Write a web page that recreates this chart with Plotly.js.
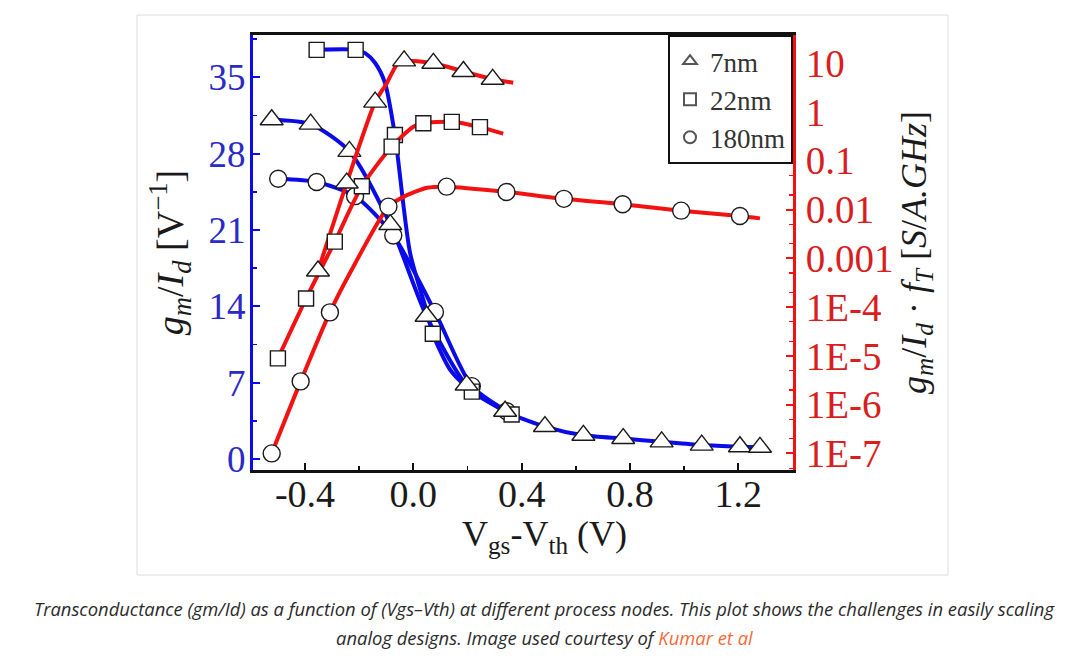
<!DOCTYPE html>
<html>
<head>
<meta charset="utf-8">
<script src="https://cdn.plot.ly/plotly-3.0.1.min.js"></script>
<style>
  html, body { margin: 0; padding: 0; background: #ffffff; }
  #chart { width: 1079px; height: 656px; }
</style>
</head>
<body>
<div id="chart"></div>
<script>
// ---------- data ----------
// gm/Id [V^-1] vs Vgs-Vth [V]  (left axis)
const vgs7Blue   = [-0.523, -0.379, -0.236, -0.085, 0.049, 0.197, 0.339, 0.486, 0.628, 0.775, 0.917, 1.065, 1.206, 1.28];
const gmid7      = [31.1, 30.7, 28.2, 21.5, 13.1, 6.8, 4.4, 3.0, 2.2, 1.9, 1.6, 1.3, 1.15, 1.1];

const vgs22Blue  = [-0.357, -0.213, -0.068, 0.072, 0.216, 0.363];
const gmid22     = [37.5, 37.5, 29.7, 11.5, 6.2, 4.1];
const vgs22BlueCurve  = [-0.357, -0.213, -0.178, -0.141, -0.105, -0.068, -0.012, 0.049, 0.072, 0.136, 0.216, 0.363];
const gmid22Curve     = [37.5, 37.5, 37.2, 36.3, 34.5, 29.7, 18.9, 13.6, 11.5, 8.2, 6.2, 4.1];

const vgs180Blue = [-0.499, -0.357, -0.215, -0.074, 0.080, 0.216, 0.345];
const gmid180    = [25.7, 25.4, 24.1, 20.5, 13.5, 6.7, 4.4];

// gm/Id * fT [S/A.GHz] vs Vgs-Vth [V]  (right, log axis)
const vgs7Red    = [-0.352, -0.246, -0.141, -0.034, 0.074, 0.185, 0.293];
const fom7       = [5.5e-4, 0.035, 1.6, 11.2, 10.0, 6.8, 4.7];
const vgs7RedCurve = [-0.352, -0.246, -0.141, -0.098, -0.061, -0.034, 0.074, 0.185, 0.293, 0.369];
const fom7Curve    = [5.5e-4, 0.035, 1.6, 3.9, 9.3, 11.2, 10.0, 6.8, 4.7, 4.0];

const vgs22Red   = [-0.5, -0.396, -0.29, -0.19, -0.08, 0.037, 0.142, 0.246];
const fom22      = [8.9e-6, 1.5e-4, 2.2e-3, 0.030, 0.195, 0.59, 0.63, 0.49];
const vgs22RedCurve = [-0.5, -0.396, -0.29, -0.19, -0.08, 0.0, 0.037, 0.142, 0.246, 0.332];
const fom22Curve    = [8.9e-6, 1.5e-4, 2.2e-3, 0.030, 0.195, 0.50, 0.59, 0.63, 0.49, 0.36];

const vgs180Red  = [-0.523, -0.416, -0.308, -0.092, 0.123, 0.344, 0.556, 0.773, 0.989, 1.206];
const fom180     = [1.0e-7, 3.0e-6, 7.8e-5, 0.0115, 0.0295, 0.023, 0.0166, 0.0129, 0.0095, 0.0074];
const vgs180RedCurve = [-0.523, -0.416, -0.308, -0.234, -0.092, -0.038, 0.051, 0.123, 0.344, 0.556, 0.773, 0.989, 1.206, 1.28];
const fom180Curve    = [1.0e-7, 3.0e-6, 7.8e-5, 5.0e-4, 0.0115, 0.018, 0.028, 0.0295, 0.023, 0.0166, 0.0129, 0.0095, 0.0074, 0.0066];

const seriesNames = ['7nm', '22nm', '180nm'];
const xTickVals   = [-0.4, 0.0, 0.4, 0.8, 1.2];
const xTickText   = ['-0.4', '0.0', '0.4', '0.8', '1.2'];
const leftTickVals = [0, 7, 14, 21, 28, 35];
const rightTickVals = [1e-7, 1e-6, 1e-5, 1e-4, 1e-3, 1e-2, 0.1, 1, 10];
const rightTickText = ['1E-7', '1E-6', '1E-5', '1E-4', '0.001', '0.01', '0.1', '1', '10'];

// ---------- styling ----------
const SERIF = 'Liberation Serif, "DejaVu Serif", serif';
const BLUE = '#0b0bea';
const BLUE_TXT = '#2a2ac4';
const RED = '#f21212';
const RED_TXT = '#d81e1e';
const LW = 4;

function lineTrace(x, y, color, yaxis) {
  return { x: x, y: y, type: 'scatter', mode: 'lines', yaxis: yaxis,
           line: { color: color, width: LW, shape: 'spline', smoothing: 0.7 },
           showlegend: false, hoverinfo: 'skip' };
}
function markTrace(x, y, symbol, size, yaxis) {
  return { x: x, y: y, type: 'scatter', mode: 'markers', yaxis: yaxis,
           marker: { symbol: symbol, size: size, color: '#ffffff',
                     line: { color: '#1a1a1a', width: 1.4 } },
           showlegend: false, hoverinfo: 'skip' };
}
function legendTrace(name, symbol) {
  return { x: [null], y: [null], type: 'scatter', mode: 'markers', name: name,
           marker: { symbol: symbol, size: 11, color: '#ffffff', line: { color: '#555', width: 1.2 } },
           showlegend: true, hoverinfo: 'skip' };
}

const data = [
  lineTrace(vgs180RedCurve, fom180Curve, RED, 'y2'),
  lineTrace(vgs22RedCurve, fom22Curve, RED, 'y2'),
  lineTrace(vgs7RedCurve, fom7Curve, RED, 'y2'),
  lineTrace(vgs7Blue, gmid7, BLUE, 'y'),
  lineTrace(vgs180Blue, gmid180, BLUE, 'y'),
  lineTrace(vgs22BlueCurve, gmid22Curve, BLUE, 'y'),
  markTrace(vgs180Red, fom180, 'circle', 17, 'y2'),
  markTrace(vgs22Red, fom22, 'square', 15, 'y2'),
  markTrace(vgs7Red, fom7, 'triangle-up', 20, 'y2'),
  markTrace(vgs180Blue, gmid180, 'circle', 17, 'y'),
  markTrace(vgs22Blue, gmid22, 'square', 15, 'y'),
  markTrace(vgs7Blue, gmid7, 'triangle-up', 20, 'y'),
  legendTrace(seriesNames[0], 'triangle-up'),
  legendTrace(seriesNames[1], 'square'),
  legendTrace(seriesNames[2], 'circle')
];

const L = 253, R = 793, T = 35, B = 470;
const W = 1079, H = 656;
const px2x = (p) => (p - L) / (R - L);
const px2y = (p) => (B - p) / (B - T);

const layout = {
  width: W, height: H,
  margin: { l: L, r: W - R, t: T, b: H - B, pad: 0 },
  paper_bgcolor: '#ffffff', plot_bgcolor: '#ffffff',
  font: { family: SERIF, color: '#111' },
  showlegend: true,
  legend: {
    x: 1, xanchor: 'right', y: 1, yanchor: 'top',
    bgcolor: '#ffffff', bordercolor: '#111', borderwidth: 2,
    font: { family: SERIF, size: 27, color: '#333' },
    itemsizing: 'constant', itemwidth: 30, tracegroupgap: 0
  },
  xaxis: {
    range: [-0.592, 1.402],
    tickmode: 'array', tickvals: xTickVals, ticktext: xTickText,
    ticks: 'inside', ticklen: 7, tickwidth: 2, tickcolor: '#111',
    minor: { ticks: 'inside', ticklen: 4, tickwidth: 1.5, tickcolor: '#111', dtick: 0.2, tick0: 0 },
    showline: true, linecolor: '#111', linewidth: 3, mirror: true,
    showgrid: false, zeroline: false,
    tickfont: { family: SERIF, size: 38, color: '#1a1a1a' },
    ticklabelstandoff: -12
  },
  yaxis: {
    range: [-0.98, 38.86],
    tickmode: 'array', tickvals: leftTickVals,
    ticks: 'inside', ticklen: 7, tickwidth: 2, tickcolor: BLUE,
    minor: { ticks: 'inside', ticklen: 4, tickwidth: 1.5, tickcolor: BLUE, dtick: 3.5, tick0: 0 },
    showline: true, linecolor: BLUE, linewidth: 3,
    showgrid: false, zeroline: false,
    tickfont: { family: SERIF, size: 37, color: BLUE_TXT },
    ticklabelstandoff: -3,
    title: { text: '<i>g<sub>m</sub></i>/<i>I<sub>d</sub></i> [V<sup>−1</sup>]', font: { family: SERIF, size: 38, color: '#1a1a1a' }, standoff: 14 }
  },
  yaxis2: {
    type: 'log', range: [-7.34, 1.58], overlaying: 'y', side: 'right',
    tickmode: 'array', tickvals: rightTickVals, ticktext: rightTickText,
    ticks: 'inside', ticklen: 7, tickwidth: 2, tickcolor: RED,
    minor: { ticks: 'inside', ticklen: 4, tickwidth: 1.2, tickcolor: RED },
    showline: true, linecolor: RED, linewidth: 3,
    showgrid: false, zeroline: false,
    tickfont: { family: SERIF, size: 39, color: RED_TXT },
    ticklabelstandoff: 2,
    title: { text: '<i>g<sub>m</sub></i>/<i>I<sub>d</sub></i> · <i>f<sub>T</sub></i> [<i>S</i>/<i>A.GHz</i>]', font: { family: SERIF, size: 36, color: '#1a1a1a' }, standoff: 2 }
  },
  shapes: [{
    type: 'rect', xref: 'paper', yref: 'paper', layer: 'below',
    x0: px2x(137), x1: px2x(948), y0: px2y(575), y1: px2y(15),
    line: { color: '#dcdcdc', width: 1 }, fillcolor: 'rgba(0,0,0,0)'
  }],
  annotations: [
    { xref: 'paper', yref: 'paper', x: px2x(544), y: px2y(536), xanchor: 'center', yanchor: 'middle', showarrow: false,
      text: 'V<sub>gs</sub>-V<sub>th</sub> (V)',
      font: { family: SERIF, size: 36, color: '#1a1a1a' } },
    { xref: 'paper', yref: 'paper', x: px2x(544), y: px2y(608), xanchor: 'center', yanchor: 'middle', showarrow: false,
      text: '<i>Transconductance (gm/Id) as a function of (Vgs–Vth) at different process nodes. This plot shows the challenges in easily scaling</i>',
      font: { family: '"Open Sans", "Noto Sans", sans-serif', size: 18.4, color: '#2b2b2b' } },
    { xref: 'paper', yref: 'paper', x: px2x(544), y: px2y(637), xanchor: 'center', yanchor: 'middle', showarrow: false,
      text: '<i>analog designs. Image used courtesy of <span style="color:#f26b3a">Kumar et al</span></i>',
      font: { family: '"Open Sans", "Noto Sans", sans-serif', size: 18.4, color: '#2b2b2b' } }
  ]
};

Plotly.newPlot('chart', data, layout, { displayModeBar: false, staticPlot: true });
</script>
</body>
</html>
